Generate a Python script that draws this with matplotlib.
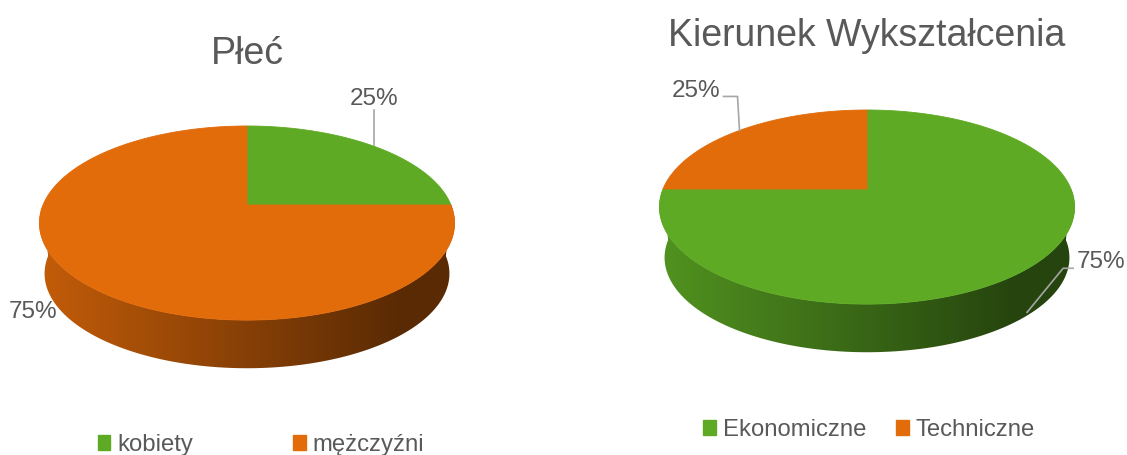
import numpy as np
import matplotlib.pyplot as plt
from matplotlib.patches import Polygon, Patch
from matplotlib.colors import to_rgb

plt.rcParams['font.family'] = ['Liberation Sans', 'DejaVu Sans']

# data
plec_title = "Płeć"
plec_labels = ["kobiety", "mężczyźni"]
plec_values = [25, 75]

kier_title = "Kierunek Wykształcenia"
kier_labels = ["Ekonomiczne", "Techniczne"]
kier_values = [75, 25]

GREEN = "#5EAA24"
ORANGE = "#E26B0A"
TEXT = "#595959"
LEADER = "#A6A6A6"

# 3D pie geometry (pixel units)
KX, KY, PERSP = 204, 93.7, 0.186
DEPTH, SHRINK = 51, 0.975


def project(theta, cx, cy, bottom=False):
    u, v = np.sin(theta), -np.cos(theta)
    s = 1.0 / (1 - PERSP * v)
    f = SHRINK if bottom else 1.0
    return cx + KX * u * s * f, cy + KY * v * s * f + (DEPTH if bottom else 0)


def draw_pie(ax, values, colors, cx, cy):
    fracs = np.array(values, dtype=float) / sum(values)
    edges = np.concatenate([[0], np.cumsum(fracs)]) * 2 * np.pi
    x0, x1 = cx - KX * 1.05, cx + KX * 1.05
    shade = np.clip(0.87 - 0.47 * np.linspace(0, 1, 300) / 0.85, 0.40, 1)

    # side wall, front half only
    for a, b, col in zip(edges[:-1], edges[1:], colors):
        lo, hi = max(a, np.pi / 2), min(b, 3 * np.pi / 2)
        if hi <= lo:
            continue
        t = np.linspace(lo, hi, 120)
        tx, ty = project(t, cx, cy)
        bx, by = project(t[::-1], cx, cy, bottom=True)
        poly = Polygon(np.column_stack([np.r_[tx, bx], np.r_[ty, by]]),
                       closed=True, facecolor='none', edgecolor='none')
        ax.add_patch(poly)
        grad = np.array(to_rgb(col))[None, None, :] * shade[None, :, None]
        im = ax.imshow(grad, extent=(x0, x1, cy + KY * 2 + DEPTH, cy - KY),
                       aspect='auto', interpolation='bilinear', zorder=1)
        im.set_clip_path(poly)

    # top face
    for a, b, col in zip(edges[:-1], edges[1:], colors):
        t = np.linspace(a, b, 200)
        tx, ty = project(t, cx, cy)
        pts = np.column_stack([np.r_[cx, tx], np.r_[cy, ty]])
        ax.add_patch(Polygon(pts, closed=True, facecolor=col,
                             edgecolor=col, lw=0.6, zorder=2))
    return (edges[:-1] + edges[1:]) / 2, fracs


def label(ax, anchor, text, leader, pos, ha):
    ax_, ay_ = anchor
    if leader:
        xs = [ax_ + dx for dx, dy in leader]
        ys = [ay_ + dy for dx, dy in leader]
        ax.plot(xs, ys, color=LEADER, lw=1.2, zorder=3)
    ax.text(ax_ + pos[0], ay_ + pos[1], text, ha=ha, va='baseline',
            fontsize=17.5, color=TEXT, zorder=4)


def legend(ax, labels, colors, center, spacing):
    return ax.legend(handles=[Patch(color=c, label=l) for c, l in zip(colors, labels)],
                     loc='center', bbox_to_anchor=center, bbox_transform=ax.transData,
                     ncol=2, frameon=False, fontsize=17.2, labelcolor=TEXT,
                     handlelength=0.53, handleheight=0.53, handletextpad=0.28,
                     columnspacing=spacing, borderpad=0, borderaxespad=0)


fig = plt.figure(figsize=(11.27, 4.55), dpi=100)
ax = fig.add_axes([0, 0, 1, 1])
ax.set_xlim(0, 1127)
ax.set_ylim(455, 0)
ax.axis('off')

# left chart
cxL, cyL = 247, 205
mids, fr = draw_pie(ax, plec_values, [GREEN, ORANGE], cxL, cyL)
label(ax, project(mids[0], cxL, cyL), f"{fr[0]:.0%}",
      [(0, -1), (0, -36)], (0, -41), 'center')
label(ax, project(mids[1], cxL, cyL), f"{fr[1]:.0%}",
      None, (-48, 37), 'center')
ax.text(cxL, 64, plec_title, ha='center', va='baseline', fontsize=27, color=TEXT)
ax.add_artist(legend(ax, plec_labels, [GREEN, ORANGE], (261, 445), 4.2))

# right chart
cxR, cyR = 867, 189
mids, fr = draw_pie(ax, kier_values, [GREEN, ORANGE], cxR, cyR)
label(ax, project(mids[0], cxR, cyR), f"{fr[0]:.0%}",
      [(-6, 47), (30, 3), (40, 3)], (44, 3), 'left')
label(ax, project(mids[1], cxR, cyR), f"{fr[1]:.0%}",
      [(0, 0), (-2, -34), (-16, -34)], (-19, -33), 'right')
ax.text(cxR, 46, kier_title, ha='center', va='baseline', fontsize=27, color=TEXT)
legend(ax, kier_labels, [GREEN, ORANGE], (869, 430), 1.25)

fig.savefig('out.png', dpi=100)
